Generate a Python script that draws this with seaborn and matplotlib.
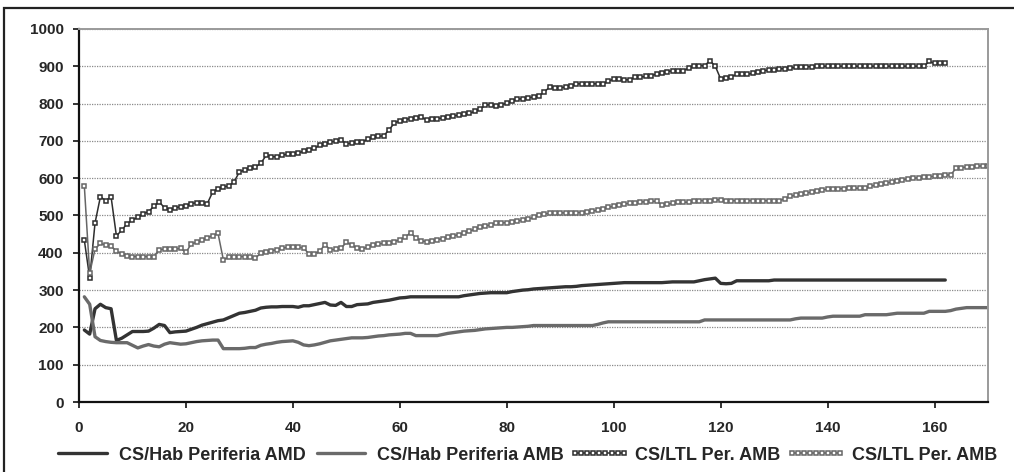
import matplotlib
matplotlib.use("Agg")
import matplotlib.pyplot as plt
from matplotlib.patches import Rectangle
import numpy as np
import pandas as pd
import seaborn as sns

# series (one value per step, x = 1..n)
hab_amd = [
    193, 182, 250, 262, 253, 250, 165, 171, 180, 189,
    189, 189, 190, 198, 208, 205, 186, 188, 189, 190,
    195, 200, 206, 210, 214, 218, 220, 226, 232, 238,
    240, 243, 246, 252, 254, 255, 255, 256, 256, 256,
    254, 258, 258, 261, 264, 267, 260, 259, 267, 256,
    256, 261, 262, 263, 267, 269, 271, 273, 276, 279,
    280, 282, 282, 282, 282, 282, 282, 282, 282, 282,
    282, 285, 287, 289, 291, 292, 293, 293, 293, 293,
    296, 298, 300, 301, 303, 304, 305, 306, 307, 308,
    309, 309, 310, 312, 313, 314, 315, 316, 317, 318,
    319, 320, 320, 320, 320, 320, 320, 320, 320, 321,
    322, 322, 322, 322, 322, 325, 328, 330, 332, 318,
    317, 318, 325, 325, 325, 325, 325, 325, 325, 327,
    327, 327, 327, 327, 327, 327, 327, 327, 327, 327,
    327, 327, 327, 327, 327, 327, 327, 327, 327, 327,
    327, 327, 327, 327, 327, 327, 327, 327, 327, 327,
    327, 327,
]

hab_amb = [
    282, 262, 175, 165, 162, 160, 159, 159, 159, 152,
    145, 150, 154, 150, 148, 155, 159, 157, 155, 156,
    159, 162, 164, 165, 166, 166, 143, 143, 143, 143,
    144, 146, 146, 152, 155, 157, 160, 162, 163, 164,
    160, 153, 151, 153, 156, 160, 164, 166, 168, 170,
    172, 172, 172, 173, 175, 177, 178, 180, 181, 182,
    184, 184, 178, 178, 178, 178, 178, 181, 184, 186,
    188, 190, 191, 192, 194, 196, 197, 198, 199, 200,
    200, 201, 202, 203, 205, 205, 205, 205, 205, 205,
    205, 205, 205, 205, 205, 205, 208, 212, 215, 215,
    215, 215, 215, 215, 215, 215, 215, 215, 215, 215,
    215, 215, 215, 215, 215, 215, 220, 220, 220, 220,
    220, 220, 220, 220, 220, 220, 220, 220, 220, 220,
    220, 220, 220, 223, 225, 225, 225, 225, 225, 228,
    230, 230, 230, 230, 230, 230, 234, 234, 234, 234,
    234, 236, 238, 238, 238, 238, 238, 238, 243, 243,
    243, 243, 245, 249, 251, 253, 253, 253, 253, 253,
]

ltl_amb_1 = [
    434, 332, 480, 550, 540, 550, 445, 461, 478, 488,
    495, 505, 510, 525, 537, 520, 514, 520, 524, 526,
    532, 534, 534, 532, 563, 572, 577, 579, 590, 617,
    622, 626, 630, 640, 661, 658, 657, 661, 665, 666,
    668, 672, 676, 680, 688, 692, 697, 699, 703, 692,
    694, 696, 697, 705, 710, 712, 714, 730, 748, 754,
    757, 760, 761, 764, 756, 758, 760, 761, 764, 767,
    769, 771, 774, 779, 785, 796, 797, 794, 797, 801,
    806, 812, 813, 815, 818, 821, 831, 844, 843, 842,
    845, 848, 853, 853, 853, 853, 853, 853, 860, 866,
    865, 864, 864, 871, 871, 873, 875, 879, 882, 886,
    888, 888, 888, 895, 902, 902, 902, 915, 900, 866,
    869, 872, 878, 878, 878, 882, 886, 888, 890, 891,
    893, 894, 895, 897, 899, 899, 899, 900, 900, 900,
    900, 900, 900, 900, 900, 900, 900, 900, 900, 900,
    900, 900, 900, 900, 900, 900, 900, 900, 913, 908,
    908, 908,
]

ltl_amb_2 = [
    579, 345, 410, 425, 421, 418, 404, 397, 392, 390,
    390, 390, 390, 390, 408, 410, 410, 410, 412, 401,
    424, 428, 433, 440, 446, 452, 381, 388, 390, 390,
    390, 388, 386, 399, 403, 406, 408, 412, 415, 415,
    415, 413, 397, 398, 404, 422, 408, 409, 412, 428,
    421, 412, 410, 416, 422, 424, 425, 426, 430, 435,
    442, 454, 440, 432, 430, 432, 435, 438, 442, 445,
    449, 452, 458, 463, 468, 472, 475, 479, 480, 481,
    483, 485, 488, 490, 495, 502, 504, 506, 507, 507,
    507, 507, 508, 508, 510, 512, 514, 518, 522, 525,
    529, 531, 533, 534, 536, 537, 538, 538, 529, 530,
    533, 535, 535, 536, 538, 540, 540, 540, 542, 542,
    540, 540, 540, 540, 540, 540, 540, 540, 540, 540,
    540, 545, 551, 555, 558, 560, 563, 566, 569, 570,
    571, 572, 572, 573, 573, 573, 573, 578, 582, 585,
    587, 590, 593, 595, 598, 600, 601, 603, 604, 605,
    607, 608, 609, 626, 628, 630, 631, 632, 633, 634,
]

labels = ["CS/Hab Periferia AMD", "CS/Hab Periferia AMB",
          "CS/LTL Per. AMB", "CS/LTL Per. AMB"]

sns.set_style("white")
plt.rcParams["font.family"] = ["Liberation Sans", "DejaVu Sans"]
plt.rcParams["font.weight"] = "bold"

fig = plt.figure(figsize=(10.14, 4.72), dpi=100)
ax = fig.add_axes([0.0779, 0.1483, 0.8965, 0.7903])

series = [hab_amd, hab_amb, ltl_amb_1, ltl_amb_2]
styles = [
    dict(color="#333333", lw=2.4),
    dict(color="#6a6a6a", lw=2.4),
    dict(color="#2e2e2e", lw=1.1, marker="s", markersize=3.3,
         markerfacecolor="white", markeredgecolor="#2e2e2e", markeredgewidth=1.1),
    dict(color="#666666", lw=1.1, marker="s", markersize=3.3,
         markerfacecolor="white", markeredgecolor="#666666", markeredgewidth=1.1),
]

for vals, lab, st in zip(series, labels, styles):
    df = pd.DataFrame({"x": np.arange(1, len(vals) + 1), "y": vals})
    sns.lineplot(data=df, x="x", y="y", ax=ax, label=lab, legend=False, **st)

ax.set_xlim(0, 170)
ax.set_ylim(0, 1000)
ax.set_xticks(range(0, 161, 20))
ax.set_yticks(range(0, 1001, 100))
ax.set_xlabel("")
ax.set_ylabel("")

ax.yaxis.grid(True, color="#8a8a8a", lw=0.9, ls=(0, (1, 1)))
ax.xaxis.grid(False)

ax.spines["left"].set_color("#111111")
ax.spines["bottom"].set_color("#111111")
ax.spines["left"].set_linewidth(1.6)
ax.spines["bottom"].set_linewidth(1.6)
ax.spines["top"].set_color("#9a9a9a")
ax.spines["right"].set_color("#9a9a9a")
ax.spines["top"].set_linewidth(1.4)
ax.spines["right"].set_linewidth(1.4)

ax.tick_params(axis="y", direction="out", length=4, width=1.2, color="#111111",
               pad=7, labelsize=11, left=True)
ax.tick_params(axis="x", direction="out", length=4, width=1.2, color="#111111",
               pad=10, labelsize=11, bottom=True)
for t in ax.get_xticklabels() + ax.get_yticklabels():
    t.set_fontweight("bold")

handles, labs = ax.get_legend_handles_labels()
fig.legend(handles, labs, loc="center left", bbox_to_anchor=(0.0434, 0.036),
           ncol=4, frameon=False, handlelength=3.3,
           handletextpad=0.33, columnspacing=0.33, borderpad=0,
           numpoints=9, prop={"weight": "bold", "size": 13})

# outer chart frame
fig.add_artist(Rectangle((4 / 1014, -0.1), 1.2, 1.1 - 8 / 472, fill=False,
                         transform=fig.transFigure, lw=1.6, edgecolor="#222222"))

fig.savefig("out.png", dpi=100)
